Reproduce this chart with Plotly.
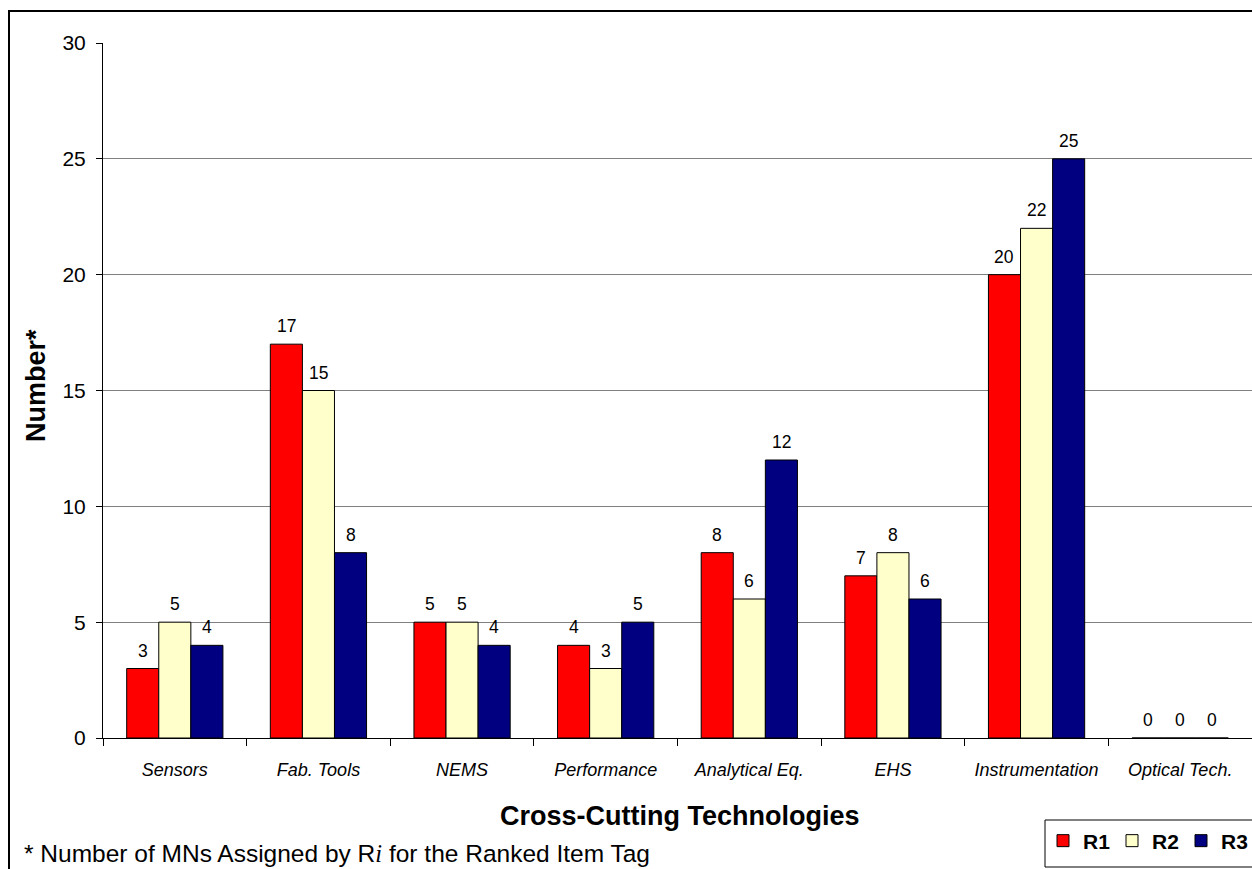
import plotly.graph_objects as go

categories = ["Sensors", "Fab. Tools", "NEMS", "Performance", "Analytical Eq.",
              "EHS", "Instrumentation", "Optical Tech."]
r1 = [3, 17, 5, 4, 8, 7, 20, 0]
r2 = [5, 15, 5, 3, 6, 8, 22, 0]
r3 = [4, 8, 4, 5, 12, 6, 25, 0]
series_names = ["R1", "R2", "R3"]
series_colors = ["#FF0000", "#FFFFCC", "#000080"]
y_ticks = [0, 5, 10, 15, 20, 25, 30]

W, H = 1252, 869
L, R, T, B = 103, 0, 43, 131
pw, ph = W - L - R, H - T - B
BARGAP = 0.33
FONT = "Arial, Liberation Sans"


def px_x(x):
    return (x - L) / pw


def px_y(y):
    return (H - B - y) / ph


fig = go.Figure()
series = [r1, r2, r3]
for name, vals, col in zip(series_names, series, series_colors):
    fig.add_trace(go.Bar(
        x=categories, y=vals, name=name,
        marker=dict(color=col, line=dict(color="black", width=1)),
    ))

# value labels above each bar, shifted sideways to sit over their bar
bar_w = pw / len(categories) * (1 - BARGAP) / len(series)
labels = []
for k, vals in enumerate(series):
    for cat, v in zip(categories, vals):
        labels.append(dict(
            x=cat, y=v, xref="x", yref="y", text=str(v), showarrow=False,
            xshift=(k - 1) * bar_w, yshift=18, yanchor="middle",
            font=dict(family=FONT, size=17.5, color="black"),
        ))

fig.update_layout(
    width=W, height=H,
    margin=dict(l=L, r=R, t=T, b=B, pad=0, autoexpand=False),
    paper_bgcolor="white", plot_bgcolor="white",
    barmode="group", bargap=BARGAP, bargroupgap=0,
    font=dict(family=FONT, color="black"),
    showlegend=True,
    legend=dict(
        orientation="h", xref="container", yref="container",
        x=1043 / W, y=1 - 841 / H, xanchor="left", yanchor="middle",
        borderwidth=0, bgcolor="rgba(0,0,0,0)",
        font=dict(size=21, family=FONT, weight="bold"),
        itemwidth=30, tracegroupgap=0, entrywidth=24,
    ),
    xaxis=dict(
        type="category", tickson="boundaries", ticks="outside", ticklen=7,
        tickcolor="black", showline=True, linecolor="black", linewidth=1,
        tickfont=dict(size=18, family=FONT, style="italic"),
        ticklabelstandoff=15, showgrid=False, range=[-0.5, 7.5],
        automargin=False,
    ),
    yaxis=dict(
        range=[0, 30], tickvals=y_ticks, ticks="outside", ticklen=6,
        tickcolor="black", showline=True, linecolor="black", linewidth=1,
        showgrid=True, gridcolor="#808080", gridwidth=1,
        tickfont=dict(size=21, family=FONT), ticklabelstandoff=6,
        zeroline=False, automargin=False,
    ),
    shapes=[
        dict(type="rect", xref="paper", yref="paper",
             x0=px_x(9), x1=px_x(1270), y0=px_y(900), y1=px_y(11),
             line=dict(color="black", width=2), layer="below"),
        dict(type="rect", xref="paper", yref="paper",
             x0=px_x(1045), x1=px_x(1262), y0=px_y(867), y1=px_y(820),
             line=dict(color="black", width=1), fillcolor="white", layer="below"),
    ],
    annotations=[
        dict(text="<b>Number*</b>", xref="paper", yref="paper",
             x=px_x(36), y=px_y(386), textangle=-90, showarrow=False,
             xanchor="center", yanchor="middle", font=dict(size=27)),
        dict(text="<b>Cross-Cutting Technologies</b>", xref="paper", yref="paper",
             x=px_x(680), y=px_y(816), showarrow=False,
             xanchor="center", yanchor="middle", font=dict(size=27)),
        dict(text="* Number of MNs Assigned by R<span style=\"font-family:'Liberation Serif', 'Times New Roman', serif\"><i>i</i></span> for the Ranked Item Tag",
             xref="paper", yref="paper", x=px_x(22), y=px_y(853),
             xanchor="left", yanchor="middle", showarrow=False, font=dict(size=24.5)),
    ] + labels,
)

fig.write_html("out.html")
